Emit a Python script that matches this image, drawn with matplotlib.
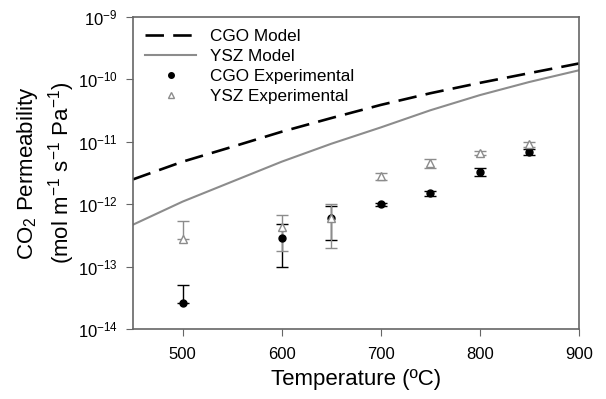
import numpy as np
import matplotlib
matplotlib.use('Agg')
import matplotlib.pyplot as plt
from matplotlib.lines import Line2D

plt.rcParams['font.family'] = ['Liberation Sans', 'DejaVu Sans']
plt.rcParams['mathtext.fontset'] = 'custom'
plt.rcParams['mathtext.rm'] = 'Liberation Sans'
plt.rcParams['mathtext.it'] = 'Liberation Sans'
plt.rcParams['mathtext.bf'] = 'Liberation Sans'
plt.rcParams['mathtext.default'] = 'regular'

# model curves
t_model = [450, 500, 550, 600, 650, 700, 750, 800, 850, 900]
cgo_model = [2.5e-12, 4.8e-12, 8.3e-12, 1.45e-11, 2.4e-11, 3.9e-11, 6.0e-11, 8.8e-11, 1.26e-10, 1.8e-10]
ysz_model = [4.7e-13, 1.1e-12, 2.3e-12, 4.8e-12, 9.3e-12, 1.7e-11, 3.2e-11, 5.6e-11, 9.1e-11, 1.4e-10]

# experimental points
t_exp = [500, 600, 650, 700, 750, 800, 850]
cgo_exp = [2.6e-14, 2.9e-13, 6.0e-13, 1.0e-12, 1.5e-12, 3.3e-12, 6.9e-12]
cgo_err_lo = [0, 1.9e-13, 3.3e-13, 0.06e-12, 0.15e-12, 0.5e-12, 0.8e-12]
cgo_err_hi = [2.5e-14, 1.9e-13, 3.3e-13, 0.06e-12, 0.15e-12, 0.5e-12, 0.8e-12]
ysz_exp = [2.8e-13, 4.3e-13, 6.0e-13, 2.8e-12, 4.6e-12, 6.6e-12, 9.1e-12]
ysz_err_lo = [0, 2.5e-13, 4.0e-13, 0.4e-12, 0.8e-12, 0.4e-12, 0.8e-12]
ysz_err_hi = [2.6e-13, 2.5e-13, 4.0e-13, 0.4e-12, 0.8e-12, 0.4e-12, 0.8e-12]

grey = '#8c8c8c'
axcol = '#666666'

fig = plt.figure(figsize=(6.06, 3.99), dpi=100)
ax = fig.add_axes([0.2195, 0.1754, 0.7359, 0.782])

ax.plot(t_model, cgo_model, 'k--', lw=1.9, dashes=(7, 3.5), label='CGO Model')
ax.plot(t_model, ysz_model, '-', color=grey, lw=1.5, label='YSZ Model')
ax.errorbar(t_exp, cgo_exp, yerr=[cgo_err_lo, cgo_err_hi], fmt='o', color='black',
            ms=5, capsize=4, elinewidth=1, capthick=1, label='CGO Experimental')
ax.errorbar(t_exp, ysz_exp, yerr=[ysz_err_lo, ysz_err_hi], fmt='^', color=grey,
            mfc='white', mec=grey, ms=6, capsize=4, elinewidth=1, capthick=1,
            label='YSZ Experimental')

ax.set_yscale('log')
ax.set_xlim(450, 900)
ax.set_ylim(1e-14, 1e-9)
ax.set_xticks([500, 600, 700, 800, 900])
ax.yaxis.set_major_locator(matplotlib.ticker.LogLocator(base=10, numticks=10))
ax.yaxis.set_minor_locator(matplotlib.ticker.NullLocator())

for s in ax.spines.values():
    s.set_color(axcol)
    s.set_linewidth(1.2)
ax.tick_params(direction='out', length=5, color=axcol, labelsize=12, pad=6)
ax.tick_params(axis='x', pad=8)

ax.set_xlabel('Temperature (ºC)', fontsize=16, labelpad=5)
ax.set_ylabel('CO$_2$ Permeability\n(mol m$^{-1}$ s$^{-1}$ Pa$^{-1}$)', fontsize=16,
              linespacing=1.3)
ax.yaxis.set_label_coords(-0.125, 0.5)

h, l = ax.get_legend_handles_labels()
h[2] = Line2D([], [], marker='o', ls='', color='black', ms=4)
h[3] = Line2D([], [], marker='^', ls='', mfc='white', mec=grey, ms=5)
ax.legend(h, l, loc='upper left', frameon=False, fontsize=12.3, handlelength=3.0,
          handletextpad=0.8, labelspacing=0.3, borderaxespad=0.3,
          bbox_to_anchor=(0.0, 1.0))

fig.savefig('out.png', dpi=100)
